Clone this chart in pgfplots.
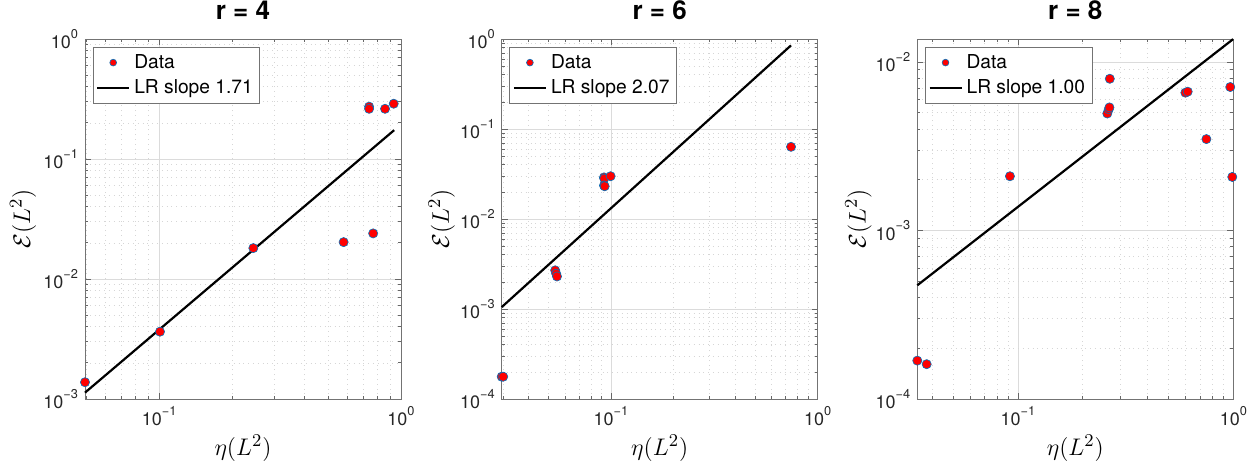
\documentclass[border=0pt]{standalone}
\usepackage[no-math]{fontspec}
\setmainfont{TeX Gyre Heros}
\usepackage{pgfplots}
\pgfplotsset{compat=1.18}
\definecolor{medge}{rgb}{0,0.447,0.741}
\newcommand{\tp}[1]{10\raisebox{0.6em}{\fontsize{6.4}{7}\selectfont #1}}
\pgfplotsset{
  axis line style={black!55, line width=0.4pt},
  tick style={black!60, line width=0.4pt},
  tick align=inside, major tick length=3pt, minor tick length=1.6pt,
  major grid style={black!14, line width=0.35pt},
  minor grid style={black!16, dotted, line width=0.35pt},
  ticklabel style={font=\fontsize{9}{10}\selectfont, text=black!85},
  title style={font=\bfseries\fontsize{13}{15}\selectfont, at={(axis description cs:0.5,1)}, anchor=base, yshift=4pt},
  label style={font=\fontsize{13}{15}\selectfont},
  xlabel style={at={(axis description cs:0.5,-0.136)}, anchor=center},
  legend style={at={(axis description cs:0.0244,0.9786)}, anchor=north west, draw=black!55, line width=0.4pt,
    font=\fontsize{9.6}{11}\selectfont, inner sep=1.5pt, row sep=0.3pt},
  legend cell align=left,
}
\begin{document}
\begin{tikzpicture}
\path[use as bounding box] (0,0) rectangle (629pt,-231pt);
% r = 4
\begin{axis}[xmode=log, ymode=log, scale only axis, width=158pt, height=180pt, anchor=north west, clip=false, grid=both,
  at={(42.5pt,-19.5pt)}, title={r = 4},
  xlabel={$\eta(L^2)$}, ylabel={$\mathcal{E}(L^2)$},
  ylabel style={at={(axis description cs:-0.196,0.5)}, anchor=center},
  xmin=0.0493, xmax=1, ymin=1e-3, ymax=1,
  xtick={0.1,1}, xticklabels={\tp{−1},\tp{0}},
  minor xtick={0.03,0.04,0.05,0.06,0.07,0.08,0.09,0.2,0.3,0.4,0.5,0.6,0.7,0.8,0.9},
  ytick={1e-3,1e-2,1e-1,1}, yticklabels={\tp{−3},\tp{−2},\tp{−1},\tp{0}},
  minor ytick={0.002,0.003,0.004,0.005,0.006,0.007,0.008,0.009,0.02,0.03,0.04,0.05,0.06,0.07,0.08,0.09,0.2,0.3,0.4,0.5,0.6,0.7,0.8,0.9}]
\addplot[only marks, mark=*, mark size=2.3pt, mark options={fill=red, draw=medge, line width=0.3pt},
   legend image code/.code={\fill[red, draw=medge, line width=0.3pt] (8pt,0pt) circle (1.7pt);}]
   coordinates {(0.0493,1.38e-3) (0.1007,3.64e-3) (0.245,0.0181) (0.579,0.0203) (0.767,0.0240) (0.738,0.273) (0.738,0.262) (0.859,0.262) (0.933,0.289)};
\addlegendentry{Data}
\addplot[black, line width=1.1pt, mark=none,
   legend image code/.code={\draw[black, line width=1.1pt] (0pt,0pt) -- (16pt,0pt);}]
   coordinates {(0.0493,1.13e-3) (0.937,0.174)};
\addlegendentry{LR slope 1.71}
\end{axis}
% r = 6
\begin{axis}[xmode=log, ymode=log, scale only axis, width=158pt, height=180pt, anchor=north west, clip=false, grid=both,
  at={(250.85pt,-19.5pt)}, title={r = 6},
  xlabel={$\eta(L^2)$}, ylabel={$\mathcal{E}(L^2)$},
  ylabel style={at={(axis description cs:-0.19,0.5)}, anchor=center},
  xmin=0.0296, xmax=1, ymin=1e-4, ymax=1,
  xtick={0.1,1}, xticklabels={\tp{−1},\tp{0}},
  minor xtick={0.03,0.04,0.05,0.06,0.07,0.08,0.09,0.2,0.3,0.4,0.5,0.6,0.7,0.8,0.9},
  ytick={1e-4,1e-3,1e-2,1e-1,1}, yticklabels={\tp{−4},\tp{−3},\tp{−2},\tp{−1},\tp{0}},
  minor ytick={0.0002,0.0003,0.0004,0.0005,0.0006,0.0007,0.0008,0.0009,0.002,0.003,0.004,0.005,0.006,0.007,0.008,0.009,0.02,0.03,0.04,0.05,0.06,0.07,0.08,0.09,0.2,0.3,0.4,0.5,0.6,0.7,0.8,0.9}]
\addplot[only marks, mark=*, mark size=2.3pt, mark options={fill=red, draw=medge, line width=0.3pt},
   legend image code/.code={\fill[red, draw=medge, line width=0.3pt] (8pt,0pt) circle (1.7pt);}]
   coordinates {(0.0296,1.77e-4) (0.0301,1.77e-4) (0.0537,2.69e-3) (0.0543,2.47e-3) (0.0548,2.30e-3) (0.0925,0.0290) (0.0928,0.0281) (0.0925,0.0236) (0.0932,0.0231) (0.0996,0.0299) (0.743,0.0634)};
\addlegendentry{Data}
\addplot[black, line width=1.1pt, mark=none,
   legend image code/.code={\draw[black, line width=1.1pt] (0pt,0pt) -- (16pt,0pt);}]
   coordinates {(0.0296,1.05e-3) (0.743,0.85)};
\addlegendentry{LR slope 2.07}
\end{axis}
% r = 8
\begin{axis}[xmode=log, ymode=log, scale only axis, width=158pt, height=180pt, anchor=north west, clip=false, grid=both,
  at={(458.65pt,-19.5pt)}, title={r = 8},
  xlabel={$\eta(L^2)$}, ylabel={$\mathcal{E}(L^2)$},
  ylabel style={at={(axis description cs:-0.186,0.5)}, anchor=center},
  xmin=0.0341, xmax=1, ymin=1e-4, ymax=0.0137,
  xtick={0.1,1}, xticklabels={\tp{−1},\tp{0}},
  minor xtick={0.03,0.04,0.05,0.06,0.07,0.08,0.09,0.2,0.3,0.4,0.5,0.6,0.7,0.8,0.9},
  ytick={1e-4,1e-3,1e-2}, yticklabels={\tp{−4},\tp{−3},\tp{−2}},
  minor ytick={0.0002,0.0003,0.0004,0.0005,0.0006,0.0007,0.0008,0.0009,0.002,0.003,0.004,0.005,0.006,0.007,0.008,0.009}]
\addplot[only marks, mark=*, mark size=2.3pt, mark options={fill=red, draw=medge, line width=0.3pt},
   legend image code/.code={\fill[red, draw=medge, line width=0.3pt] (8pt,0pt) circle (1.7pt);}]
   coordinates {(0.0341,1.69e-4) (0.0377,1.61e-4) (0.0918,2.10e-3) (0.260,4.95e-3) (0.264,5.24e-3) (0.266,5.38e-3) (0.267,7.96e-3) (0.599,6.58e-3) (0.614,6.67e-3) (0.750,3.49e-3) (0.968,7.11e-3) (0.989,2.08e-3)};
\addlegendentry{Data}
\addplot[black, line width=1.1pt, mark=none,
   legend image code/.code={\draw[black, line width=1.1pt] (0pt,0pt) -- (16pt,0pt);}]
   coordinates {(0.0341,4.73e-4) (0.998,0.01368)};
\addlegendentry{LR slope 1.00}
\end{axis}
\end{tikzpicture}
\end{document}
